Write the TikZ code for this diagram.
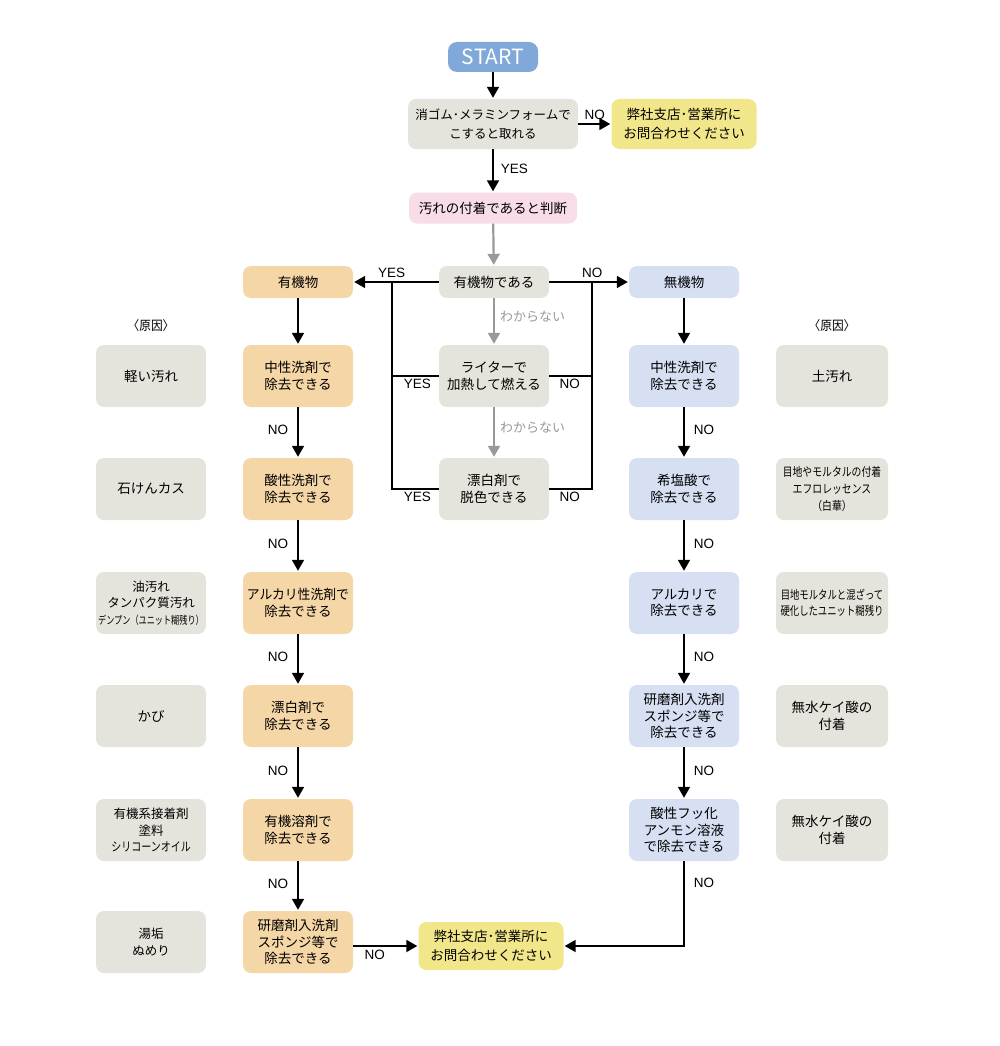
\documentclass[tikz,border=0pt]{standalone}
\usepackage{fontspec}
\usepackage{graphicx}
\setmainfont{Noto Sans CJK JP}
\newfontfamily\latinfont{Liberation Sans}
\usetikzlibrary{arrows.meta}
\definecolor{cgray}{HTML}{E5E4DC}
\definecolor{corange}{HTML}{F5D6A6}
\definecolor{cblue}{HTML}{D6E0F2}
\definecolor{cyellow}{HTML}{F1E68A}
\definecolor{cpink}{HTML}{F8DCE8}
\definecolor{cstart}{HTML}{80A9D9}
\definecolor{carrgray}{HTML}{999999}
\newcommand{\narrow}[2][0.85]{\scalebox{#1}[1]{#2}}
\tikzset{
  base/.style={rounded corners=8pt, align=center, inner sep=0pt, minimum width=110pt, minimum height=62pt,
    font=\fontsize{13.5}{16.5}\selectfont},
  graybox/.style={base, fill=cgray},
  orangebox/.style={base, fill=corange},
  bluebox/.style={base, fill=cblue},
  yellowbox/.style={base, fill=cyellow, font=\fontsize{13.5}{19}\selectfont},
  pinkbox/.style={base, fill=cpink},
  causebox/.style={base, fill=cgray},
  short/.style={minimum height=32pt},
  arr/.style={line width=1.8pt, -{Triangle[length=11pt,width=12pt]}, shorten >=1pt},
  grayarr/.style={line width=2.2pt, carrgray, -{Triangle[length=11pt,width=12pt]}, shorten >=1pt},
  plain/.style={line width=1.8pt},
  lbl/.style={font=\latinfont\fontsize{13.5}{14}\selectfont, inner sep=3pt},
  hdr/.style={font=\fontsize{13}{14}\selectfont, inner sep=3pt},
  glbl/.style={font=\fontsize{13}{14}\selectfont, text=carrgray, inner sep=3pt},
}
\begin{document}
\begin{tikzpicture}[x=1pt,y=-1pt]
\path[use as bounding box] (0,0) rectangle (1000,1046);

% top
\node[base, fill=cstart, text=white, minimum width=90pt, minimum height=30pt, rounded corners=9pt,
  font=\fontsize{21}{21}\selectfont] (start) at (493,57) {START};
\node[graybox, minimum width=170pt, minimum height=50pt, font=\fontsize{12.5}{19}\selectfont] (q1) at (493,124) {消ゴム･メラミンフォームで\\こすると取れる};
\node[yellowbox, minimum width=145pt, minimum height=50pt] (c1) at (684,124) {弊社支店･営業所に\\お問合わせください};
\node[pinkbox, minimum width=168pt, minimum height=31pt] (judge) at (493,208) {汚れの付着であると判断};

% middle decision
\node[graybox, short] (org) at (494,282) {有機物である};
\node[orangebox, short] (yuki) at (298,282) {有機物};
\node[bluebox, short] (muki) at (684,282) {無機物};
\node[graybox] (lighter) at (494,376) {ライターで\\加熱して燃える};
\node[graybox] (bleach) at (494,489) {漂白剤で\\脱色できる};

% cause headers
\node[hdr] (hl) at (151,326) {\narrow[0.9]{〈原因〉}};
\node[hdr] (hr) at (832,326) {\narrow[0.9]{〈原因〉}};

% left column
\node[orangebox] (L1) at (298,376) {中性洗剤で\\除去できる};
\node[orangebox] (L2) at (298,489) {酸性洗剤で\\除去できる};
\node[orangebox] (L3) at (298,603) {\narrow[0.95]{アルカリ性洗剤で}\\除去できる};
\node[orangebox] (L4) at (298,716) {漂白剤で\\除去できる};
\node[orangebox] (L5) at (298,830) {有機溶剤で\\除去できる};
\node[orangebox] (L6) at (298,942) {研磨剤入洗剤\\スポンジ等で\\除去できる};

\node[causebox] (A1) at (151,376) {軽い汚れ};
\node[causebox] (A2) at (151,489) {石けんカス};
\node[causebox, font=\fontsize{12.5}{16.5}\selectfont] (A3) at (151,603) {油汚れ\\タンパク質汚れ\\{\fontsize{11}{16.5}\selectfont\narrow[0.74]{デンプン（ユニット糊残り）}}};
\node[causebox] (A4) at (151,716) {かび};
\node[causebox, font=\fontsize{12.5}{16.5}\selectfont] (A5) at (151,830) {有機系接着剤\\塗料\\\narrow[0.8]{シリコーンオイル}};
\node[causebox, font=\fontsize{12.5}{16.5}\selectfont] (A6) at (151,942) {湯垢\\ぬめり};

% right column
\node[bluebox] (R1) at (684,376) {中性洗剤で\\除去できる};
\node[bluebox] (R2) at (684,489) {希塩酸で\\除去できる};
\node[bluebox] (R3) at (684,603) {アルカリで\\除去できる};
\node[bluebox] (R4) at (684,716) {研磨剤入洗剤\\スポンジ等で\\除去できる};
\node[bluebox] (R5) at (684,830) {酸性フッ化\\アンモン溶液\\で除去できる};

\node[causebox, minimum width=112pt] (B1) at (832,376) {土汚れ};
\node[causebox, minimum width=112pt, font=\fontsize{12}{17}\selectfont] (B2) at (832,489) {\narrow[0.82]{目地やモルタルの付着}\\\narrow[0.82]{エフロレッセンス}\\\narrow[0.82]{（白華）}};
\node[causebox, minimum width=112pt, font=\fontsize{12}{16.5}\selectfont] (B3) at (832,603) {\narrow[0.78]{目地モルタルと混ざって}\\\narrow[0.78]{硬化したユニット糊残り}};
\node[causebox, minimum width=112pt] (B4) at (832,716) {無水ケイ酸の\\付着};
\node[causebox, minimum width=112pt] (B5) at (832,830) {無水ケイ酸の\\付着};

% bottom contact
\node[yellowbox, minimum width=145pt, minimum height=48pt] (c2) at (491,946) {弊社支店･営業所に\\お問合わせください};

% connectors top
\draw[arr] (start) -- (q1);
\draw[arr] (q1) -- node[lbl, above, pos=0.5] {NO} (c1);
\draw[arr] (q1) -- node[lbl, right, pos=0.45, xshift=4pt] {YES} (judge);
\draw[grayarr] (judge) -- (org);
\draw[arr] (org) -- node[lbl, above, pos=0.55] {YES} (yuki);
\draw[arr] (org) -- node[lbl, above, pos=0.54] {NO} (muki);

% junction lines
\coordinate (jl) at (392,282);
\coordinate (jr) at (592,282);
\draw[plain] (jl) |- (bleach.west);
\draw[plain] (jr) |- (bleach.east);
\draw[plain] (lighter.west) -- (lighter.west -| jl);
\draw[plain] (lighter.east) -- (lighter.east -| jr);
\path (lighter.west) -- node[lbl, below, pos=0.46] {YES} (lighter.west -| jl);
\path (bleach.west) -- node[lbl, below, pos=0.46] {YES} (bleach.west -| jl);
\path (lighter.east) -- node[lbl, below, pos=0.48] {NO} (lighter.east -| jr);
\path (bleach.east) -- node[lbl, below, pos=0.48] {NO} (bleach.east -| jr);

\draw[grayarr] (org) -- node[glbl, right, pos=0.4, xshift=2pt] {わからない} (lighter);
\draw[grayarr] (lighter) -- node[glbl, right, pos=0.4, xshift=2pt] {わからない} (bleach);

% left column connectors
\draw[arr] (yuki) -- (L1);
\draw[arr] (L1) -- node[lbl, left, pos=0.45, xshift=-6pt] {NO} (L2);
\draw[arr] (L2) -- node[lbl, left, pos=0.45, xshift=-6pt] {NO} (L3);
\draw[arr] (L3) -- node[lbl, left, pos=0.45, xshift=-6pt] {NO} (L4);
\draw[arr] (L4) -- node[lbl, left, pos=0.45, xshift=-6pt] {NO} (L5);
\draw[arr] (L5) -- node[lbl, left, pos=0.45, xshift=-6pt] {NO} (L6);
\draw[arr] (L6.east |- c2) -- node[lbl, below, pos=0.33] {NO} (c2);

% right column connectors
\draw[arr] (muki) -- (R1);
\draw[arr] (R1) -- node[lbl, right, pos=0.45, xshift=6pt] {NO} (R2);
\draw[arr] (R2) -- node[lbl, right, pos=0.45, xshift=6pt] {NO} (R3);
\draw[arr] (R3) -- node[lbl, right, pos=0.45, xshift=6pt] {NO} (R4);
\draw[arr] (R4) -- node[lbl, right, pos=0.45, xshift=6pt] {NO} (R5);
\draw[arr] (R5.south) |- node[lbl, right, pos=0.13, xshift=6pt] {NO} (c2.east);
\end{tikzpicture}
\end{document}
